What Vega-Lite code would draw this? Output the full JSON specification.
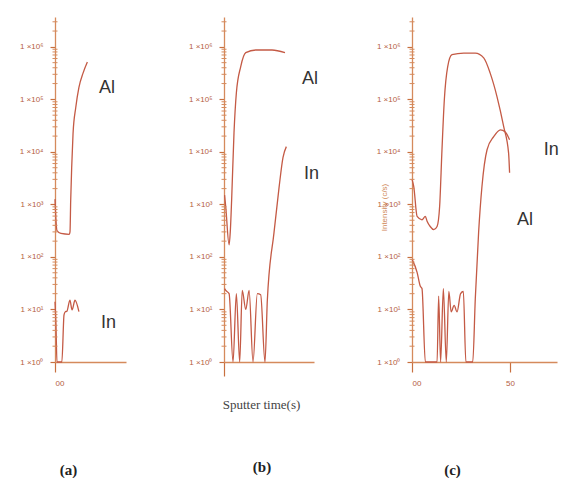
{
  "$schema": "https://vega.github.io/schema/vega-lite/v6.json",
  "background": "white",
  "padding": {"left": 19, "top": 17, "right": 0, "bottom": 0},
  "spacing": 98,
  "bounds": "flush",
  "config": {
    "view": {"stroke": null},
    "axis": {
      "grid": false,
      "domainColor": "#d58a5c",
      "tickColor": "#c8703f",
      "labelColor": "#b5603f",
      "labelFont": "Liberation Sans",
      "labelFontSize": 8,
      "labelOverlap": false,
      "domainWidth": 1.3,
      "tickWidth": 1.2
    },
    "title": {
      "orient": "bottom",
      "font": "Liberation Serif",
      "fontSize": 15,
      "fontWeight": "bold",
      "color": "#222222"
    },
    "line": {"stroke": "#c45a45", "strokeWidth": 1.3, "interpolate": "monotone"},
    "tick": {"orient": "horizontal", "size": 5, "thickness": 1, "color": "#d58a5c", "opacity": 1},
    "text": {"font": "Liberation Sans", "fontSize": 18, "color": "#333333", "align": "left", "baseline": "middle"}
  },
  "datasets": {
    "minor": [
      {"v": 2}, {"v": 3}, {"v": 4}, {"v": 5}, {"v": 6}, {"v": 7}, {"v": 8}, {"v": 9},
      {"v": 20}, {"v": 30}, {"v": 40}, {"v": 50}, {"v": 60}, {"v": 70}, {"v": 80}, {"v": 90},
      {"v": 200}, {"v": 300}, {"v": 400}, {"v": 500}, {"v": 600}, {"v": 700}, {"v": 800}, {"v": 900},
      {"v": 2000}, {"v": 3000}, {"v": 4000}, {"v": 5000}, {"v": 6000}, {"v": 7000}, {"v": 8000}, {"v": 9000},
      {"v": 20000}, {"v": 30000}, {"v": 40000}, {"v": 50000}, {"v": 60000}, {"v": 70000}, {"v": 80000}, {"v": 90000},
      {"v": 200000}, {"v": 300000}, {"v": 400000}, {"v": 500000}, {"v": 600000}, {"v": 700000}, {"v": 800000}, {"v": 900000},
      {"v": 2000000}, {"v": 3000000}
    ],
    "profiles": [
      {"panel": "a", "element": "Al", "t": 0, "counts": 1260},
      {"panel": "a", "element": "Al", "t": 0.5, "counts": 500},
      {"panel": "a", "element": "Al", "t": 1, "counts": 316},
      {"panel": "a", "element": "Al", "t": 3, "counts": 280},
      {"panel": "a", "element": "Al", "t": 7.3, "counts": 270},
      {"panel": "a", "element": "Al", "t": 7.65, "counts": 300},
      {"panel": "a", "element": "Al", "t": 8.0, "counts": 1170},
      {"panel": "a", "element": "Al", "t": 8.5, "counts": 5000},
      {"panel": "a", "element": "Al", "t": 9.2, "counts": 22400},
      {"panel": "a", "element": "Al", "t": 10.6, "counts": 70800},
      {"panel": "a", "element": "Al", "t": 12.2, "counts": 170000},
      {"panel": "a", "element": "Al", "t": 14.3, "counts": 316000},
      {"panel": "a", "element": "Al", "t": 16.5, "counts": 513000},

      {"panel": "a", "element": "In", "t": 0, "counts": 14},
      {"panel": "a", "element": "In", "t": 0.5, "counts": 5},
      {"panel": "a", "element": "In", "t": 1, "counts": 1},
      {"panel": "a", "element": "In", "t": 3.5, "counts": 1},
      {"panel": "a", "element": "In", "t": 4.6, "counts": 7.9},
      {"panel": "a", "element": "In", "t": 5.2, "counts": 9},
      {"panel": "a", "element": "In", "t": 6.1, "counts": 9.3},
      {"panel": "a", "element": "In", "t": 7.6, "counts": 15},
      {"panel": "a", "element": "In", "t": 8.7, "counts": 9.8},
      {"panel": "a", "element": "In", "t": 10.2, "counts": 15},
      {"panel": "a", "element": "In", "t": 12.2, "counts": 9.1},

      {"panel": "b", "element": "Al", "t": 0.3, "counts": 1500},
      {"panel": "b", "element": "Al", "t": 0.9, "counts": 890},
      {"panel": "b", "element": "Al", "t": 2.6, "counts": 170},
      {"panel": "b", "element": "Al", "t": 3.2, "counts": 300},
      {"panel": "b", "element": "Al", "t": 3.9, "counts": 1230},
      {"panel": "b", "element": "Al", "t": 5.1, "counts": 23000},
      {"panel": "b", "element": "Al", "t": 6.3, "counts": 132000},
      {"panel": "b", "element": "Al", "t": 8.5, "counts": 417000},
      {"panel": "b", "element": "Al", "t": 11.1, "counts": 776000},
      {"panel": "b", "element": "Al", "t": 16.2, "counts": 871000},
      {"panel": "b", "element": "Al", "t": 24.5, "counts": 871000},
      {"panel": "b", "element": "Al", "t": 31.1, "counts": 776000},

      {"panel": "b", "element": "In", "t": 0.3, "counts": 25},
      {"panel": "b", "element": "In", "t": 0.9, "counts": 23},
      {"panel": "b", "element": "In", "t": 2.6, "counts": 20},
      {"panel": "b", "element": "In", "t": 4.6, "counts": 1},
      {"panel": "b", "element": "In", "t": 6.3, "counts": 20},
      {"panel": "b", "element": "In", "t": 8.0, "counts": 1},
      {"panel": "b", "element": "In", "t": 9.3, "counts": 23},
      {"panel": "b", "element": "In", "t": 11.1, "counts": 10},
      {"panel": "b", "element": "In", "t": 12.8, "counts": 23},
      {"panel": "b", "element": "In", "t": 14.8, "counts": 1},
      {"panel": "b", "element": "In", "t": 17.0, "counts": 20},
      {"panel": "b", "element": "In", "t": 18.7, "counts": 19},
      {"panel": "b", "element": "In", "t": 20.9, "counts": 1},
      {"panel": "b", "element": "In", "t": 22.1, "counts": 15},
      {"panel": "b", "element": "In", "t": 25.5, "counts": 290},
      {"panel": "b", "element": "In", "t": 28.1, "counts": 2140},
      {"panel": "b", "element": "In", "t": 30.1, "counts": 7900},
      {"panel": "b", "element": "In", "t": 31.8, "counts": 12600},

      {"panel": "c", "element": "In", "t": 0, "counts": 3000},
      {"panel": "c", "element": "In", "t": 0.9, "counts": 2190},
      {"panel": "c", "element": "In", "t": 2.6, "counts": 590},
      {"panel": "c", "element": "In", "t": 5.1, "counts": 510},
      {"panel": "c", "element": "In", "t": 6.8, "counts": 590},
      {"panel": "c", "element": "In", "t": 7.7, "counts": 480},
      {"panel": "c", "element": "In", "t": 9.3, "counts": 380},
      {"panel": "c", "element": "In", "t": 11.1, "counts": 330},
      {"panel": "c", "element": "In", "t": 12.8, "counts": 380},
      {"panel": "c", "element": "In", "t": 14.1, "counts": 910},
      {"panel": "c", "element": "In", "t": 15.3, "counts": 11000},
      {"panel": "c", "element": "In", "t": 16.5, "counts": 98000},
      {"panel": "c", "element": "In", "t": 18.2, "counts": 417000},
      {"panel": "c", "element": "In", "t": 20.4, "counts": 708000},
      {"panel": "c", "element": "In", "t": 26.4, "counts": 759000},
      {"panel": "c", "element": "In", "t": 32.3, "counts": 759000},
      {"panel": "c", "element": "In", "t": 36.6, "counts": 617000},
      {"panel": "c", "element": "In", "t": 39.9, "counts": 316000},
      {"panel": "c", "element": "In", "t": 43.4, "counts": 112000},
      {"panel": "c", "element": "In", "t": 46.8, "counts": 30200},
      {"panel": "c", "element": "In", "t": 49.3, "counts": 9500},
      {"panel": "c", "element": "In", "t": 49.8, "counts": 4000},

      {"panel": "c", "element": "Al", "t": 0, "counts": 91},
      {"panel": "c", "element": "Al", "t": 2.6, "counts": 51},
      {"panel": "c", "element": "Al", "t": 4.2, "counts": 28},
      {"panel": "c", "element": "Al", "t": 5.1, "counts": 25},
      {"panel": "c", "element": "Al", "t": 6.8, "counts": 1},
      {"panel": "c", "element": "Al", "t": 12.8, "counts": 1},
      {"panel": "c", "element": "Al", "t": 13.6, "counts": 18},
      {"panel": "c", "element": "Al", "t": 14.6, "counts": 1},
      {"panel": "c", "element": "Al", "t": 16.0, "counts": 25},
      {"panel": "c", "element": "Al", "t": 17.5, "counts": 1},
      {"panel": "c", "element": "Al", "t": 18.8, "counts": 22},
      {"panel": "c", "element": "Al", "t": 20.0, "counts": 9},
      {"panel": "c", "element": "Al", "t": 21.5, "counts": 12},
      {"panel": "c", "element": "Al", "t": 23.0, "counts": 9},
      {"panel": "c", "element": "Al", "t": 24.8, "counts": 20},
      {"panel": "c", "element": "Al", "t": 26.2, "counts": 22},
      {"panel": "c", "element": "Al", "t": 27.5, "counts": 1},
      {"panel": "c", "element": "Al", "t": 31.0, "counts": 1},
      {"panel": "c", "element": "Al", "t": 32.3, "counts": 16},
      {"panel": "c", "element": "Al", "t": 34.0, "counts": 295},
      {"panel": "c", "element": "Al", "t": 35.7, "counts": 2190},
      {"panel": "c", "element": "Al", "t": 38.3, "counts": 11000},
      {"panel": "c", "element": "Al", "t": 41.7, "counts": 19500},
      {"panel": "c", "element": "Al", "t": 45.1, "counts": 26300},
      {"panel": "c", "element": "Al", "t": 47.6, "counts": 24000},
      {"panel": "c", "element": "Al", "t": 49.8, "counts": 17000}
    ],
    "tags": [
      {"panel": "a", "text": "Al", "t": 22.4, "counts": 162000, "font": "Liberation Sans"},
      {"panel": "a", "text": "In", "t": 23.5, "counts": 5.6, "font": "Liberation Sans"},
      {"panel": "b", "text": "Al", "t": 39.8, "counts": 245000, "font": "Liberation Sans"},
      {"panel": "b", "text": "In", "t": 40.8, "counts": 3800, "font": "Liberation Sans"},
      {"panel": "c", "text": "In", "t": 67.3, "counts": 11000, "font": "Liberation Sans"},
      {"panel": "c", "text": "Al", "t": 53.6, "counts": 515, "font": "Liberation Serif"}
    ]
  },
  "hconcat": [
    {
      "width": 71,
      "height": 345,
      "title": {"text": "(a)", "dx": -22, "offset": 76},
      "layer": [
        {
          "data": {"name": "profiles"},
          "transform": [{"filter": "datum.panel == 'a'"}],
          "mark": "line",
          "encoding": {
            "x": {"field": "t", "type": "quantitative", "scale": {"domain": [0, 36.2], "nice": false, "zero": false},
                  "axis": {"values": [0], "format": "02d", "title": null, "tickSize": 10, "labelPadding": 7}},
            "y": {"field": "counts", "type": "quantitative", "scale": {"type": "log", "domain": [1, 3700000], "nice": false},
                  "axis": {"title": null,
                           "values": [1, 10, 100, 1000, 10000, 100000, 1000000],
                           "labelExpr": "'1 ×10' + ['⁰','¹','²','³','⁴','⁵','⁶'][round(log(datum.value) / LN10)]",
                           "tickSize": 5,
                           "labelPadding": 7}},
            "detail": {"field": "element"}
          }
        },
        {
          "data": {"name": "minor"},
          "mark": "tick",
          "encoding": {
            "x": {"datum": 0, "type": "quantitative"},
            "y": {"field": "v", "type": "quantitative"}
          }
        },
        {
          "data": {"name": "tags"},
          "transform": [{"filter": "datum.panel == 'a'"}],
          "mark": "text",
          "encoding": {
            "x": {"field": "t", "type": "quantitative"},
            "y": {"field": "counts", "type": "quantitative"},
            "text": {"field": "text"},
            "font": {"field": "font", "type": "nominal", "scale": null}
          }
        }
      ]
    },
    {
      "width": 90,
      "height": 345,
      "title": {"text": "(b)", "dx": -7, "offset": 49},
      "layer": [
        {
          "data": {"name": "profiles"},
          "transform": [{"filter": "datum.panel == 'b'"}],
          "mark": "line",
          "encoding": {
            "x": {"field": "t", "type": "quantitative", "scale": {"domain": [0, 45.9], "nice": false, "zero": false},
                  "axis": {"values": [0], "labels": false, "tickSize": 14, "title": "Sputter time(s)",
                           "titleFont": "Liberation Serif", "titleFontSize": 13, "titleFontWeight": "normal",
                           "titleColor": "#444444", "titleX": 37, "titleY": 36}},
            "y": {"field": "counts", "type": "quantitative", "scale": {"type": "log", "domain": [1, 3700000], "nice": false},
                  "axis": {"title": null,
                           "values": [1, 10, 100, 1000, 10000, 100000, 1000000],
                           "labelExpr": "'1 ×10' + ['⁰','¹','²','³','⁴','⁵','⁶'][round(log(datum.value) / LN10)]",
                           "tickSize": 5,
                           "labelPadding": 7}},
            "detail": {"field": "element"}
          }
        },
        {
          "data": {"name": "minor"},
          "mark": "tick",
          "encoding": {
            "x": {"datum": 0, "type": "quantitative"},
            "y": {"field": "v", "type": "quantitative"}
          }
        },
        {
          "data": {"name": "tags"},
          "transform": [{"filter": "datum.panel == 'b'"}],
          "mark": "text",
          "encoding": {
            "x": {"field": "t", "type": "quantitative"},
            "y": {"field": "counts", "type": "quantitative"},
            "text": {"field": "text"},
            "font": {"field": "font", "type": "nominal", "scale": null}
          }
        }
      ]
    },
    {
      "width": 145,
      "height": 345,
      "title": {"text": "(c)", "dx": -32, "offset": 76},
      "layer": [
        {
          "data": {"name": "profiles"},
          "transform": [{"filter": "datum.panel == 'c'"}],
          "mark": "line",
          "encoding": {
            "x": {"field": "t", "type": "quantitative", "scale": {"domain": [0, 74], "nice": false, "zero": false},
                  "axis": {"values": [0, 50], "format": "02d", "title": null, "tickSize": 10, "labelPadding": 7}},
            "y": {"field": "counts", "type": "quantitative", "scale": {"type": "log", "domain": [1, 3700000], "nice": false},
                  "axis": {"title": "Intensity (c/s)", "titleFont": "Liberation Sans", "titleFontSize": 8,
                           "titleFontWeight": "normal", "titleColor": "#d08a5a", "titleX": -24, "titleY": 190,
                           "values": [1, 10, 100, 1000, 10000, 100000, 1000000],
                           "labelExpr": "'1 ×10' + ['⁰','¹','²','³','⁴','⁵','⁶'][round(log(datum.value) / LN10)]",
                           "tickSize": 5,
                           "labelPadding": 7}},
            "detail": {"field": "element"}
          }
        },
        {
          "data": {"name": "minor"},
          "mark": "tick",
          "encoding": {
            "x": {"datum": 0, "type": "quantitative"},
            "y": {"field": "v", "type": "quantitative"}
          }
        },
        {
          "data": {"name": "tags"},
          "transform": [{"filter": "datum.panel == 'c'"}],
          "mark": "text",
          "encoding": {
            "x": {"field": "t", "type": "quantitative"},
            "y": {"field": "counts", "type": "quantitative"},
            "text": {"field": "text"},
            "font": {"field": "font", "type": "nominal", "scale": null}
          }
        }
      ]
    }
  ]
}
